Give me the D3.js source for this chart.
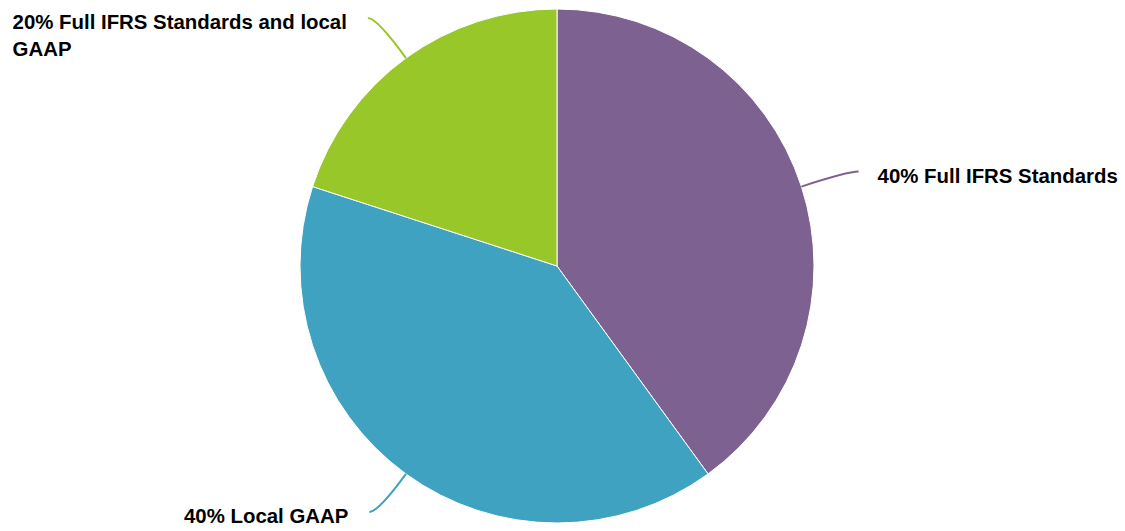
<!DOCTYPE html>
<html>
<head>
<meta charset="utf-8">
<script src="https://cdn.jsdelivr.net/npm/d3@7"></script>
<style>
  body { margin: 0; background: #fff; }
  svg { display: block; }
  text { font-family: "Liberation Sans", Arial, Helvetica, sans-serif; font-weight: bold; font-size: 20.4px; fill: #000; }
</style>
</head>
<body>
<svg id="chart" width="1125" height="531"></svg>
<script>
const categories = ["Full IFRS Standards", "Local GAAP", "Full IFRS Standards and local GAAP"];
const values = [40, 40, 20];
const labelLines = [["40% Full IFRS Standards"], ["40% Local GAAP"], ["20% Full IFRS Standards and local", "GAAP"]];
const colors = ["#7D6190", "#3FA2C1", "#97C728"];

const W = 1125, H = 531;
const cx = 557, cy = 266, R = 257;
const svg = d3.select("#chart");
const g = svg.append("g").attr("transform", `translate(${cx},${cy})`);

const pie = d3.pie().sort(null).value(d => d)(values);
const arc = d3.arc().innerRadius(0).outerRadius(R);

g.selectAll("path.slice").data(pie).join("path")
  .attr("class", "slice")
  .attr("d", arc)
  .attr("fill", (d, i) => colors[i])
  .attr("stroke", "#fff")
  .attr("stroke-width", 1)
  .attr("stroke-linejoin", "round");

const offsetY = [15, 38, 40];
pie.forEach((d, i) => {
  const a = (d.startAngle + d.endAngle) / 2;
  const sx = Math.sin(a) * R, sy = -Math.cos(a) * R;
  const right = Math.sin(a) > 0;
  const ux = Math.sin(a), uy = -Math.cos(a);
  const ey = sy + (uy < 0 ? -offsetY[i] : offsetY[i]);
  const t = Math.abs((ey - sy) / uy);
  const ctrlx = sx + ux * t;
  const ex = right ? ctrlx + 11 : ctrlx - 9;
  g.append("path")
    .attr("d", `M${sx},${sy}Q${ctrlx},${ey} ${ex},${ey}`)
    .attr("fill", "none")
    .attr("stroke", colors[i])
    .attr("stroke-width", 2);
  const lines = labelLines[i];
  const lh = 26.5;
  const txt = g.append("text");
  lines.forEach((l, k) => {
    txt.append("tspan").attr("x", 0).attr("y", k * lh).text(l);
  });
  const bw = txt.node().getBBox().width;
  const tx = right ? ex + 19 : ex - 21 - bw;
  const ty = ey + 11;
  txt.attr("transform", `translate(${tx},${ty})`);
});
</script>
</body>
</html>
